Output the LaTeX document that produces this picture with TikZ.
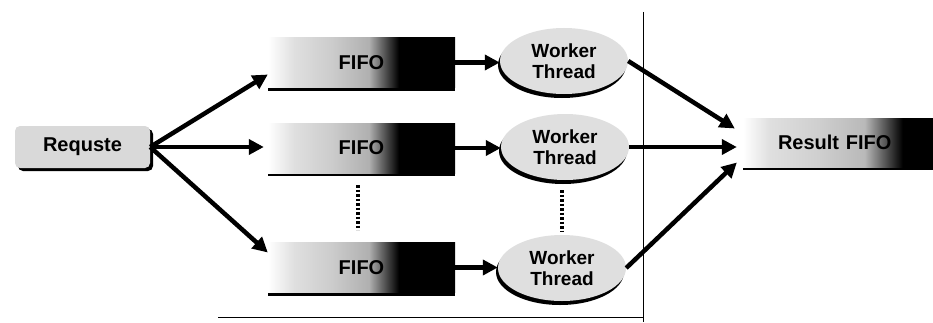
\documentclass[tikz,border=0pt]{standalone}
\usepackage{fontspec}
\setmainfont{Liberation Sans}
\usetikzlibrary{arrows.meta,shapes.geometric,shadows}
\pgfdeclarehorizontalshading{fifoshade}{100bp}{color(0bp)=(white); color(25bp)=(white); color(32bp)=(gray!25); color(42bp)=(gray!40); color(52bp)=(gray!62); color(60bp)=(black); color(100bp)=(black)}
\pgfdeclarehorizontalshading{resshade}{100bp}{color(0bp)=(white); color(25bp)=(white); color(32bp)=(gray!25); color(45bp)=(gray!38); color(57bp)=(gray!55); color(67bp)=(black); color(100bp)=(black)}
\tikzset{
  boxtext/.style={font=\bfseries\fontsize{20}{22}\selectfont, text=black},
  fifobox/.style={boxtext, shading=fifoshade, minimum width=187pt, minimum height=50pt, inner sep=0pt,
    drop shadow={shadow xshift=0pt, shadow yshift=-3pt, opacity=1, fill=black}},
  resbox/.style={fifobox, shading=resshade, minimum width=190pt, minimum height=49pt, text width=120pt, align=left},
  reqbox/.style={boxtext, fill=gray!30, rounded corners=5pt, minimum width=135pt, minimum height=42pt, inner sep=0pt,
    drop shadow={shadow xshift=3pt, shadow yshift=-3pt, opacity=1, fill=black}},
  worker/.style={ellipse, fill=gray!25, minimum width=128pt, minimum height=66pt, inner sep=0pt, align=center,
    font=\bfseries\fontsize{19}{21}\selectfont, text=black,
    drop shadow={shadow xshift=-2pt, shadow yshift=-4pt, opacity=1, fill=black}},
  arr/.style={line width=4.5pt, -{Triangle[length=15pt,width=15pt]}},
  dotline/.style={line width=3.5pt, dash pattern=on 2.5pt off 2pt},
  thinline/.style={line width=1pt}
}
\begin{document}
\begin{tikzpicture}[x=1pt,y=1pt]
\useasboundingbox (0,0) rectangle (933,322);
% separator lines
\coordinate (vtop) at (643,310);
\coordinate (vbot) at (643,0);
\coordinate (hl) at (218,5);
\coordinate (hr) at (643,5);
\draw[thinline] (vtop) -- (vbot);
\draw[thinline] (hl) -- (hr);
% nodes
\node[reqbox] (r) at (82.5,175) {Requste};
\node[fifobox] (f1) at (361.5,259.5) {FIFO};
\node[fifobox] (f2) at (361.5,174) {FIFO};
\node[fifobox] (f3) at (361.5,54.5) {FIFO};
\node[worker] (w1) at (564,261) {Worker\\Thread};
\node[worker] (w2) at (565,175) {Worker\\Thread};
\node[worker] (w3) at (562,54) {Worker\\Thread};
\node[resbox] (res) at (838,179.5) {Result FIFO};
% dotted continuation marks
\coordinate (d1a) at (358,137);
\coordinate (d1b) at (358,92);
\coordinate (d2a) at (562,132);
\coordinate (d2b) at (562,90);
\draw[dotline] (d1a) -- (d1b);
\draw[dotline] (d2a) -- (d2b);
% arrows
\draw[arr] (r.east) -- ([yshift=-12pt]f1.west);
\draw[arr] (r.east) -- ([xshift=-4pt]f2.west |- r.east);
\draw[arr] (r.east) -- ([yshift=15pt]f3.west);
\draw[arr] (f1.east) -- (f1.east -| w1.west);
\draw[arr] (f2.east) -- (f2.east -| w2.west);
\draw[arr] (f3.east) -- (f3.east -| w3.west);
\coordinate (resin) at ([xshift=-6pt]res.west);
\draw[arr] (w1.east) -- ([xshift=-8pt,yshift=14pt]res.west);
\draw[arr] (w2.east) -- (w2.east -| resin);
\draw[arr] (w3.east) -- ([xshift=-6pt,yshift=-20pt]res.west);
\end{tikzpicture}
\end{document}
